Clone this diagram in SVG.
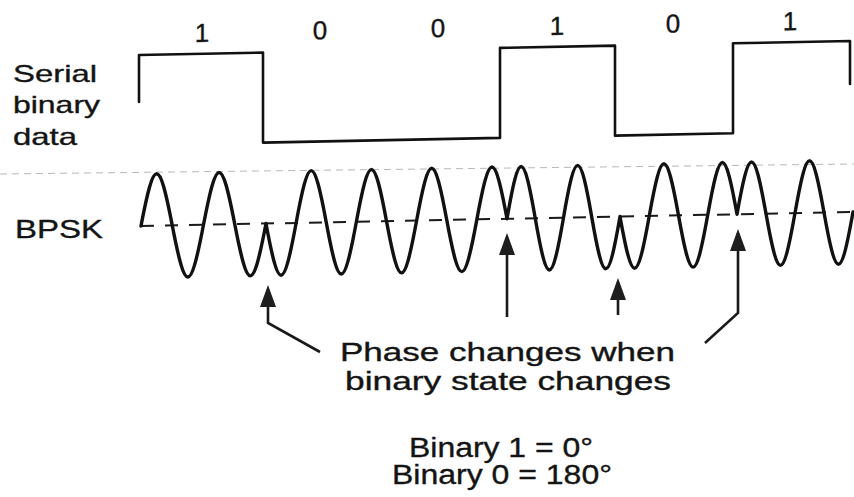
<svg xmlns="http://www.w3.org/2000/svg" width="854" height="497" viewBox="0 0 854 497">
<style>
  .lbl { font-family: "Liberation Sans", Arial, sans-serif; fill: #141414; stroke: #141414; stroke-width: 0.35; }
  .wave { fill: none; stroke: #111; stroke-linejoin: round; stroke-linecap: round; }
  .conn { fill: none; stroke: #1a1a1a; stroke-width: 2.6; }
</style>
<defs>
  <marker id="head" viewBox="0 0 22 16" markerWidth="22" markerHeight="16" refX="18" refY="8" orient="auto" markerUnits="userSpaceOnUse">
    <path d="M0,0 L22,8 L0,16 z" fill="#1e1e1e"/>
  </marker>
</defs>
<rect width="854" height="497" fill="#fff"/>

<!-- faint scan line -->
<line x1="0" y1="174" x2="854" y2="164" stroke="#b8b8b8" stroke-width="1" stroke-dasharray="7 5"/>

<g id="labels">
  <text class="lbl" x="13" y="82" font-size="24" textLength="84" lengthAdjust="spacingAndGlyphs">Serial</text>
  <text class="lbl" x="13" y="113" font-size="24" textLength="87" lengthAdjust="spacingAndGlyphs">binary</text>
  <text class="lbl" x="13" y="145" font-size="24" textLength="64" lengthAdjust="spacingAndGlyphs">data</text>
  <text class="lbl" x="15" y="238" font-size="25" textLength="88" lengthAdjust="spacingAndGlyphs">BPSK</text>
</g>

<g id="signals" transform="matrix(1 -0.0197 0 1 0 2.76)">
  <g id="bits" class="lbl" font-size="26" text-anchor="middle">
    <text x="202" y="43">1</text>
    <text x="320" y="43">0</text>
    <text x="438" y="43">0</text>
    <text x="557" y="43">1</text>
    <text x="673" y="43">0</text>
    <text x="790" y="43">1</text>
  </g>
  <g id="serial-data">
    <path class="wave" stroke-width="2.6" stroke-linejoin="miter" d="M139,102 V55 H263 V145 H500 V55 H615 V145 H733 V55 H850 V98"/>
  </g>
  <g id="bpsk">
    <line x1="141" y1="226" x2="854" y2="226" stroke="#1a1a1a" stroke-width="2" stroke-dasharray="13 11"/>
    <path class="wave" stroke-width="3.4" d="M141,226
      C154.26,156.67 159,156.67 172.25,226
      C185.51,295.33 190.24,295.33 203.5,226
      C216.76,156.67 221.49,156.67 234.75,226
      C248.01,295.33 252.74,295.33 266,226
      C278.79,295.33 283.34,295.33 296.13,226
      C308.91,156.67 313.47,156.67 326.25,226
      C339.04,295.33 343.59,295.33 356.38,226
      C369.16,156.67 373.72,156.67 386.5,226
      C399.29,295.33 403.84,295.33 416.63,226
      C429.41,156.67 433.97,156.67 446.75,226
      C459.54,295.33 464.09,295.33 476.88,226
      C489.66,156.67 494.22,156.67 507,226
      C518.99,156.67 523.26,156.67 535.25,226
      C547.24,295.33 551.51,295.33 563.5,226
      C575.49,156.67 579.76,156.67 591.75,226
      C603.74,295.33 608.01,295.33 620,226
      C632.41,295.33 636.84,295.33 649.25,226
      C661.66,156.67 666.09,156.67 678.5,226
      C690.91,295.33 695.34,295.33 707.75,226
      C720.16,156.67 724.59,156.67 737,226
      C749.31,156.67 753.69,156.67 766,226
      C778.31,295.33 782.69,295.33 795,226
      C807.31,156.67 811.69,156.67 824,226
      C836.31,295.33 840.69,295.33 853,226"/>
  </g>
</g>

<g id="connectors">
  <path class="conn" marker-end="url(#head)" d="M320,352 L268,323 L268,289"/>
  <path class="conn" marker-end="url(#head)" d="M507,317 L507,237"/>
  <path class="conn" marker-end="url(#head)" d="M618,315 L618,282"/>
  <path class="conn" marker-end="url(#head)" d="M705,343 L738,313 L738,233"/>
</g>

<g id="note">
  <text class="lbl" x="340" y="361" font-size="25" textLength="335" lengthAdjust="spacingAndGlyphs">Phase changes when</text>
  <text class="lbl" x="345" y="390" font-size="25" textLength="326" lengthAdjust="spacingAndGlyphs">binary state changes</text>
</g>

<g id="legend">
  <text class="lbl" x="409" y="457" font-size="27" textLength="184" lengthAdjust="spacingAndGlyphs">Binary 1 = 0°</text>
  <text class="lbl" x="392" y="484" font-size="27" textLength="220" lengthAdjust="spacingAndGlyphs">Binary 0 = 180°</text>
</g>
</svg>
